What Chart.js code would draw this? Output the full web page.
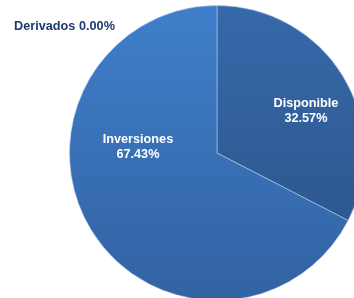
<!DOCTYPE html>
<html>
<head>
<meta charset="utf-8">
<script src="https://cdn.jsdelivr.net/npm/chart.js@4"></script>
<style>
  html, body { margin: 0; padding: 0; background: #fff; overflow: hidden; }
  body { width: 354px; height: 298px; position: relative; }
  #wrap { position: absolute; left: 0; top: 0; width: 434px; height: 306px; }
</style>
</head>
<body>
<div id="wrap"><canvas id="pie"></canvas></div>
<script>
// data
const labels = ["Derivados", "Disponible", "Inversiones"];
const shares = [0.00, 32.57, 67.43];

// label placement, as a fraction of the radius from the centre
const labelOffsets = [[-1.034, -0.856], [0.603, -0.285], [-0.536, -0.041]];
const labelColors = ["#1f3a6e", "#ffffff", "#ffffff"];

// top / bottom colour of each slice's gradient
const gradStops = [
  ["#3f7fcb", "#3262a2"],
  ["#3669aa", "#2a5287"],
  ["#3f7fcb", "#3262a2"],
];

function sliceFill(context) {
  const chart = context.chart;
  const area = chart.chartArea;
  if (!area) return gradStops[context.dataIndex][0];
  const g = chart.ctx.createLinearGradient(0, area.top, 0, area.bottom);
  g.addColorStop(0, gradStops[context.dataIndex][0]);
  g.addColorStop(1, gradStops[context.dataIndex][1]);
  return g;
}

const pieLabels = {
  id: "pieLabels",
  afterDatasetsDraw(chart) {
    const arc = chart.getDatasetMeta(0).data[0];
    if (!arc) return;
    const { x, y, outerRadius } = arc.getProps(["x", "y", "outerRadius"], true);
    const ctx = chart.ctx;
    ctx.save();
    ctx.font = "bold 12.7px 'Liberation Sans', Arial, sans-serif";
    ctx.textAlign = "center";
    ctx.textBaseline = "middle";
    labels.forEach((name, i) => {
      const pct = shares[i].toFixed(2) + "%";
      const cx = x + labelOffsets[i][0] * outerRadius;
      const cy = y + labelOffsets[i][1] * outerRadius;
      ctx.fillStyle = labelColors[i];
      if (i === 0) {
        ctx.fillText(name + " " + pct, cx, cy);
      } else {
        ctx.fillText(name, cx, cy - 7.5);
        ctx.fillText(pct, cx, cy + 7.5);
      }
    });
    ctx.restore();
  }
};

new Chart(document.getElementById("pie"), {
  type: "pie",
  data: {
    labels: labels,
    datasets: [{
      data: shares,
      backgroundColor: sliceFill,
      borderColor: "rgba(190,210,235,0.55)",
      borderWidth: 1,
    }],
  },
  options: {
    responsive: true,
    maintainAspectRatio: false,
    animation: false,
    layout: { padding: { top: 5, bottom: 5 } },
    plugins: {
      legend: { display: false },
      tooltip: { enabled: false },
    },
  },
  plugins: [pieLabels],
});
</script>
</body>
</html>
